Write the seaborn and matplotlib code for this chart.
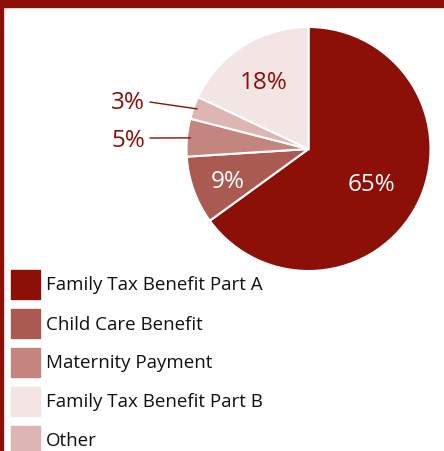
import numpy as np
import matplotlib
matplotlib.use("Agg")
import matplotlib.pyplot as plt
from matplotlib.patches import Rectangle
import seaborn as sns

sns.set_theme(style="white")
plt.rcParams['font.family'] = ['Open Sans', 'DejaVu Sans']

# Data (clockwise from 12 o'clock)
categories = ["Family Tax Benefit Part A", "Child Care Benefit", "Maternity Payment",
              "Other", "Family Tax Benefit Part B"]
values = [65, 9, 5, 3, 18]
colors = ["#8C1007", "#AB5A52", "#C5857F", "#DDB6B3", "#F2E5E4"]
legend_order = ["Family Tax Benefit Part A", "Child Care Benefit", "Maternity Payment",
                "Family Tax Benefit Part B", "Other"]

W, H = 444, 452
fig = plt.figure(figsize=(W / 100, H / 100), dpi=100)
fig.patch.set_facecolor("white")

# frame decorations
fig.patches.append(Rectangle((0, 1 - 8 / H), 1, 8 / H, transform=fig.transFigure,
                             color="#8C1007", zorder=0))
fig.patches.append(Rectangle((0, 0), 2.5 / W, 1, transform=fig.transFigure,
                             color="#8C1007", zorder=0))

cx, cy, r = 308.5, 150, 122
ax = fig.add_axes([(cx - r) / W, (H - cy - r) / H, 2 * r / W, 2 * r / H])
wedges, _ = ax.pie(values, colors=colors, startangle=90, counterclock=False,
                   radius=1, wedgeprops=dict(edgecolor="white", linewidth=1.5))
ax.set_xlim(-1, 1)
ax.set_ylim(-1, 1)
ax.set_aspect("equal")
ax.axis("off")

# labels
total = sum(values)
cum = 0
mids = []
for v in values:
    mid = 90 - (cum + v / 2) / total * 360
    mids.append(np.deg2rad(mid))
    cum += v

inside = {0: (0.58, "white"), 1: (0.70, "white"), 4: (0.68, "#8C1007")}
for i, (rad, col) in inside.items():
    ax.text(rad * np.cos(mids[i]), rad * np.sin(mids[i]), f"{values[i]}%",
            ha="center", va="center_baseline", color=col, fontsize=17.5)

outside = {3: (-1.48, 0.41, -1.30, 0.385), 2: (-1.48, 0.10, -1.30, 0.09)}
for i, (tx, ty, lx, ly) in outside.items():
    ex, ey = 0.97 * np.cos(mids[i]), 0.97 * np.sin(mids[i])
    ax.text(tx, ty, f"{values[i]}%", ha="center", va="center_baseline",
            color="#8C1007", fontsize=17.5, clip_on=False)
    ax.plot([lx, ex], [ly, ey], color="#8C1007", lw=1, clip_on=False)

# legend (square swatches + labels)
x0, y0, size, step = 11, 271, 29, 39
for k, name in enumerate(legend_order):
    top = y0 + step * k
    fig.patches.append(Rectangle((x0 / W, 1 - (top + size) / H), size / W, size / H,
                                 transform=fig.transFigure,
                                 color=colors[categories.index(name)], zorder=2))
    fig.text(46 / W, 1 - (top + size / 2) / H, name, ha="left", va="center",
             fontsize=13.5, color="#111111")

fig.savefig("out.png", dpi=100, facecolor="white")
